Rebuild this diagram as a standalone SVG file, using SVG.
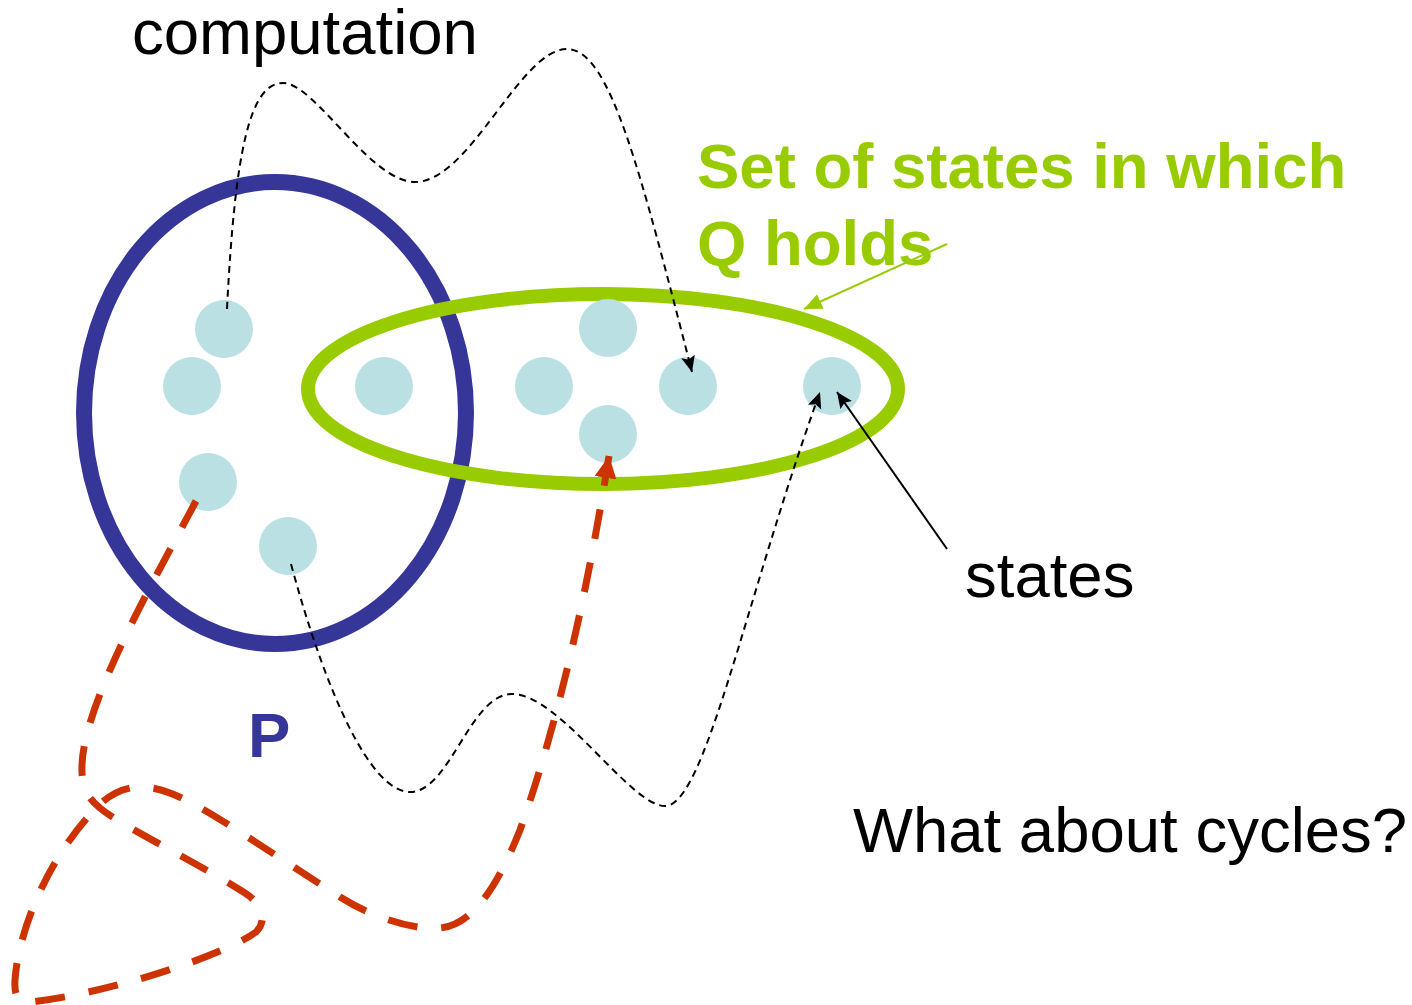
<svg xmlns="http://www.w3.org/2000/svg" width="1412" height="1005" viewBox="0 0 1412 1005">
<style>
  .lbl{font-family:"Liberation Sans",Arial,sans-serif;font-size:63.5px;fill:#000}
  .bold{font-weight:bold}
  .state{fill:#BBE0E3}
  .comp{fill:none;stroke:#000;stroke-width:2;stroke-dasharray:7 5}
  .cyc{fill:none;stroke:#CC3300;stroke-width:7;stroke-dasharray:30 24}
</style>
<defs>
  <marker id="ab" markerUnits="userSpaceOnUse" markerWidth="18" markerHeight="16" refX="16" refY="7" orient="auto">
    <path d="M0,0 L16,7 L0,14 L3,7 z" fill="#000"/>
  </marker>
  <marker id="ag" markerUnits="userSpaceOnUse" markerWidth="20" markerHeight="18" refX="18" refY="8" orient="auto">
    <path d="M0,0 L18,8 L0,16 z" fill="#99CC00"/>
  </marker>
  <marker id="ar" markerUnits="userSpaceOnUse" markerWidth="24" markerHeight="24" refX="22" refY="11" orient="auto">
    <path d="M0,0 L22,11 L0,22 z" fill="#CC3300"/>
  </marker>
</defs>

<g id="P-set">
  <ellipse cx="275" cy="413" rx="191" ry="231" fill="none" stroke="#363699" stroke-width="16"/>
</g>
<g id="Q-set">
  <ellipse cx="603" cy="389" rx="295" ry="95" fill="none" stroke="#99CC00" stroke-width="14"/>
</g>

<g id="states">
  <circle id="s1" class="state" cx="224" cy="329" r="29"/>
  <circle id="s2" class="state" cx="192" cy="386" r="29"/>
  <circle id="s3" class="state" cx="208" cy="482" r="29"/>
  <circle id="s4" class="state" cx="288" cy="546" r="29"/>
  <circle id="s5" class="state" cx="384" cy="386" r="29"/>
  <circle id="s6" class="state" cx="544" cy="386" r="29"/>
  <circle id="s7" class="state" cx="608" cy="328" r="29"/>
  <circle id="s8" class="state" cx="608" cy="434" r="29"/>
  <circle id="s9" class="state" cx="688" cy="386" r="29"/>
  <circle id="s10" class="state" cx="832" cy="386" r="29"/>
</g>

<g id="connectors">
  <path class="comp" marker-end="url(#ab)" d="M227,309 C235,150 250,83 283,83 C315,83 370,182 415,182 C470,182 520,49 567,49 C610,49 640,170 692,372"/>
  <path class="comp" marker-end="url(#ab)" d="M291,564 C325,690 370,792 410,792 C450,792 470,694 512,694 C560,694 630,806 665,806 C705,806 745,600 820,392"/>
  <path fill="none" stroke="#000" stroke-width="2" marker-end="url(#ab)" d="M947,549 L837,392"/>
  <path fill="none" stroke="#99CC00" stroke-width="2" marker-end="url(#ag)" d="M947,244 L804,309"/>
  <path class="cyc" marker-end="url(#ar)" d="M196,501 C160,570 84,700 82,765 C81,788 88,798 100,808 C118,824 200,864 245,893 C262,904 268,920 256,932 C220,958 100,995 30,1002 C18,1003 14,995 15,980 C18,935 45,860 98,806 C110,794 125,787 140,787 C165,787 190,800 240,832 L340,897 C380,922 420,930 440,928 C475,925 500,880 520,830 C545,760 580,640 609,456"/>
</g>

<g id="labels">
  <text class="lbl" x="132" y="54">computation</text>
  <text class="lbl bold" x="697" y="188" style="fill:#99CC00">Set of states in which</text>
  <text class="lbl bold" x="697" y="265" style="fill:#99CC00">Q holds</text>
  <text class="lbl" x="965" y="597">states</text>
  <text class="lbl" x="853" y="852">What about cycles?</text>
  <text class="lbl bold" x="248" y="757" style="fill:#363699">P</text>
</g>
</svg>
